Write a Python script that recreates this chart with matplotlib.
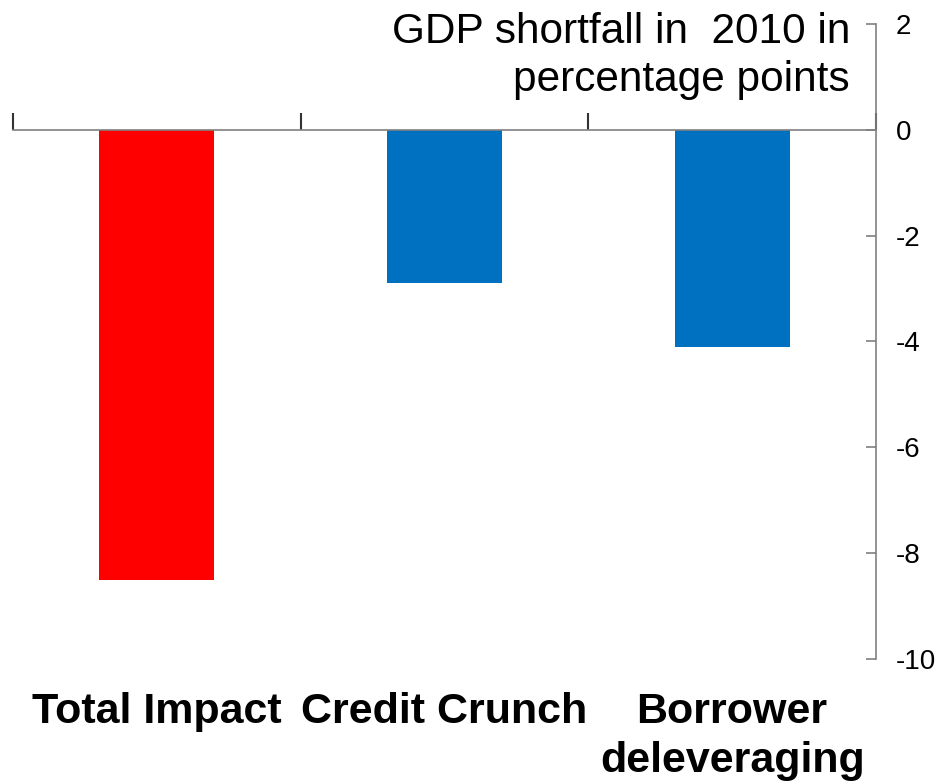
import matplotlib
matplotlib.use("Agg")
import matplotlib.pyplot as plt
import matplotlib.transforms as mtransforms

categories = ["Total Impact", "Credit Crunch", "Borrower\ndeleveraging"]
values = [-8.5, -2.9, -4.1]
colors = ["#FF0000", "#0070C0", "#0070C0"]
yticks = [2, 0, -2, -4, -6, -8, -10]
title = "GDP shortfall in  2010 in\npercentage points"

plt.rcParams['font.family'] = ['Liberation Sans', 'DejaVu Sans']

fig = plt.figure(figsize=(9.44, 7.81), dpi=100)
ax = fig.add_axes([13/944, 1-659/781, (876-13)/944, (659-24)/781])

x = list(range(len(categories)))
ax.bar(x, values, width=0.4, color=colors)

ax.set_xlim(-0.5, 2.5)
ax.set_ylim(-10, 2)

ax.spines['left'].set_visible(False)
ax.spines['top'].set_visible(False)
ax.spines['bottom'].set_position(('data', 0))
ax.spines['bottom'].set_color('#808080')
ax.spines['right'].set_color('#808080')
ax.spines['bottom'].set_linewidth(1.2)
ax.spines['right'].set_linewidth(1.2)

ax.yaxis.tick_right()
ax.set_yticks(yticks)
ax.set_yticklabels([str(v) for v in yticks])
ax.tick_params(axis='y', direction='in', length=7, width=1.2, color='#808080',
               labelsize=20, pad=14)
ax.set_xticks([-0.5, 0.5, 1.5, 2.5])
ax.set_xticklabels([])
ax.tick_params(axis='x', direction='in', length=12, width=1.5, color='#333333')

trans = mtransforms.blended_transform_factory(ax.transData, ax.transAxes)
for xi, lab in zip(x, categories):
    ax.text(xi, -0.052, lab, transform=trans, ha='center', va='top',
            fontsize=31, fontweight='bold', linespacing=1.28)

fig.text(850/944, 1-12/781, title, ha='right', va='top', fontsize=30.5,
         linespacing=1.27)

fig.savefig("out.png", dpi=100)
